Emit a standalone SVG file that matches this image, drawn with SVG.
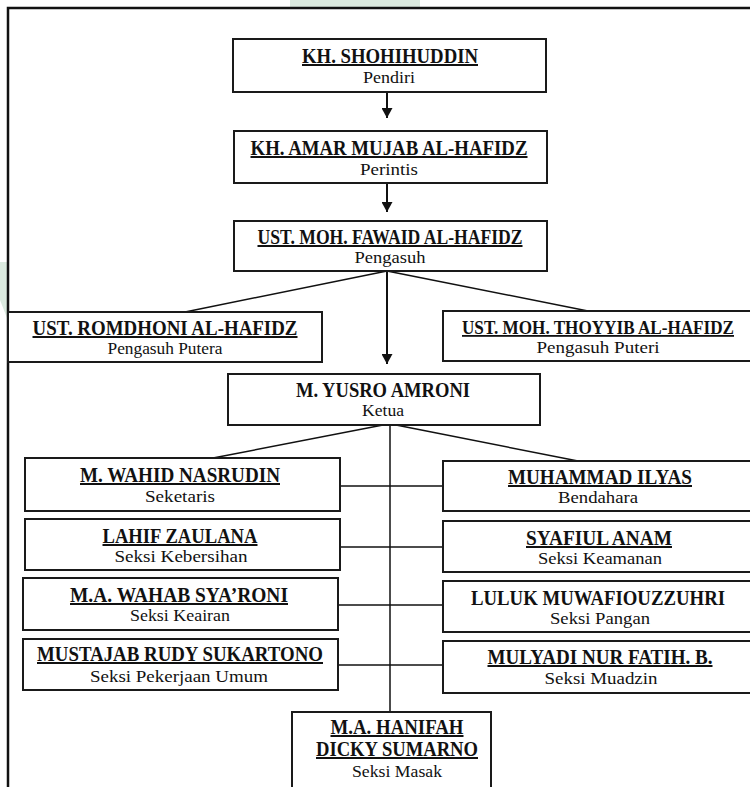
<svg xmlns="http://www.w3.org/2000/svg" width="750" height="787" viewBox="0 0 750 787">
<style>
.box{fill:#fff;stroke:#1a1a1a;stroke-width:2}
.n{font-family:"Liberation Serif","Times New Roman",serif;font-weight:bold;font-size:20px;text-anchor:middle;fill:#111}
.u{text-decoration:underline;text-decoration-thickness:2px}
.s{font-family:"Liberation Serif","Times New Roman",serif;font-size:17px;text-anchor:middle;fill:#111}
.ln{stroke:#111;stroke-width:1.5;fill:none}
.ar{stroke:#111;stroke-width:2;fill:none}
</style>
<defs>
<marker id="ah" viewBox="0 0 10 11" refX="10" refY="5.5" markerWidth="10" markerHeight="11" orient="auto" markerUnits="userSpaceOnUse">
<path d="M0,0 L10,5.5 L0,11 Z" fill="#111"/>
</marker>
</defs>
<rect width="750" height="787" fill="#fff"/>
<path d="M290,0 H420 V7 H290 Z" fill="#dbeadf"/>
<path d="M0,262 L7,262 L7,318 L0,300 Z" fill="#dbeadf"/>
<g id="frame">
<path d="M8,787 V8 H750" stroke="#111" stroke-width="2.5" fill="none"/>
</g>
<g id="connectors">
<line class="ar" x1="387" y1="92" x2="387" y2="118" marker-end="url(#ah)"/>
<line class="ar" x1="387" y1="184" x2="387" y2="212" marker-end="url(#ah)"/>
<line class="ln" x1="387" y1="271" x2="185" y2="312"/>
<line class="ln" x1="387" y1="271" x2="588" y2="311"/>
<line class="ar" x1="387" y1="271" x2="387" y2="364" stroke-width="2.5" marker-end="url(#ah)"/>
<line class="ln" x1="383" y1="425" x2="213" y2="458"/>
<line class="ln" x1="396" y1="425" x2="578" y2="461"/>
<line class="ln" x1="390" y1="425" x2="390" y2="712"/>
<line class="ln" x1="340" y1="486" x2="443" y2="486"/>
<line class="ln" x1="340" y1="547" x2="443" y2="547"/>
<line class="ln" x1="338" y1="605" x2="443" y2="605"/>
<line class="ln" x1="338" y1="665" x2="443" y2="665"/>
</g>
<g id="n1">
<rect class="box" x="233" y="39" width="313" height="53"/>
<text class="n u" x="390" y="63" textLength="176" lengthAdjust="spacingAndGlyphs">KH. SHOHIHUDDIN</text>
<text class="s" x="389" y="83" textLength="52" lengthAdjust="spacingAndGlyphs">Pendiri</text>
</g>
<g id="n2">
<rect class="box" x="234" y="131" width="313" height="52"/>
<text class="n u" x="389" y="155" textLength="277" lengthAdjust="spacingAndGlyphs">KH. AMAR MUJAB AL-HAFIDZ</text>
<text class="s" x="389" y="175" textLength="58" lengthAdjust="spacingAndGlyphs">Perintis</text>
</g>
<g id="n3">
<rect class="box" x="234" y="221" width="313" height="50"/>
<text class="n u" x="390" y="244" textLength="265" lengthAdjust="spacingAndGlyphs">UST. MOH. FAWAID AL-HAFIDZ</text>
<text class="s" x="390" y="263" textLength="71" lengthAdjust="spacingAndGlyphs">Pengasuh</text>
</g>
<g id="n4">
<rect class="box" x="8" y="312" width="314" height="50"/>
<text class="n u" x="165" y="335" textLength="265" lengthAdjust="spacingAndGlyphs">UST. ROMDHONI AL-HAFIDZ</text>
<text class="s" x="165" y="354" textLength="115" lengthAdjust="spacingAndGlyphs">Pengasuh Putera</text>
</g>
<g id="n5">
<rect class="box" x="443" y="311" width="310" height="50"/>
<text class="n u" x="598" y="334" style="font-size:18px" textLength="272" lengthAdjust="spacingAndGlyphs">UST. MOH. THOYYIB AL-HAFIDZ</text>
<text class="s" x="598" y="353" textLength="123" lengthAdjust="spacingAndGlyphs">Pengasuh Puteri</text>
</g>
<g id="n6">
<rect class="box" x="228" y="374" width="312" height="51"/>
<text class="n" x="383" y="397" textLength="174" lengthAdjust="spacingAndGlyphs">M. YUSRO AMRONI</text>
<text class="s" x="383" y="416" textLength="42" lengthAdjust="spacingAndGlyphs">Ketua</text>
</g>
<g id="n7">
<rect class="box" x="25" y="458" width="315" height="53"/>
<text class="n u" x="180" y="482" textLength="200" lengthAdjust="spacingAndGlyphs">M. WAHID NASRUDIN</text>
<text class="s" x="180" y="502" textLength="70" lengthAdjust="spacingAndGlyphs">Seketaris</text>
</g>
<g id="n8">
<rect class="box" x="443" y="461" width="310" height="50"/>
<text class="n u" x="600" y="484" textLength="184" lengthAdjust="spacingAndGlyphs">MUHAMMAD ILYAS</text>
<text class="s" x="598" y="503" textLength="80" lengthAdjust="spacingAndGlyphs">Bendahara</text>
</g>
<g id="n9">
<rect class="box" x="25" y="519" width="315" height="51"/>
<text class="n u" x="180" y="543" textLength="155" lengthAdjust="spacingAndGlyphs">LAHIF ZAULANA</text>
<text class="s" x="181" y="562" textLength="133" lengthAdjust="spacingAndGlyphs">Seksi Kebersihan</text>
</g>
<g id="n10">
<rect class="box" x="443" y="521" width="310" height="51"/>
<text class="n u" x="599" y="545" textLength="146" lengthAdjust="spacingAndGlyphs">SYAFIUL ANAM</text>
<text class="s" x="600" y="564" textLength="124" lengthAdjust="spacingAndGlyphs">Seksi Keamanan</text>
</g>
<g id="n11">
<rect class="box" x="23" y="578" width="315" height="52"/>
<text class="n u" x="179" y="602" textLength="218" lengthAdjust="spacingAndGlyphs">M.A. WAHAB SYA’RONI</text>
<text class="s" x="180" y="621" textLength="100" lengthAdjust="spacingAndGlyphs">Seksi Keairan</text>
</g>
<g id="n12">
<rect class="box" x="443" y="581" width="310" height="51"/>
<text class="n" x="598" y="605" textLength="254" lengthAdjust="spacingAndGlyphs">LULUK MUWAFIOUZZUHRI</text>
<text class="s" x="600" y="624" textLength="100" lengthAdjust="spacingAndGlyphs">Seksi Pangan</text>
</g>
<g id="n13">
<rect class="box" x="23" y="639" width="315" height="51"/>
<text class="n u" x="180" y="661" textLength="286" lengthAdjust="spacingAndGlyphs">MUSTAJAB RUDY SUKARTONO</text>
<text class="s" x="179" y="682" textLength="178" lengthAdjust="spacingAndGlyphs">Seksi Pekerjaan Umum</text>
</g>
<g id="n14">
<rect class="box" x="443" y="641" width="310" height="52"/>
<text class="n u" x="600" y="664" textLength="225" lengthAdjust="spacingAndGlyphs">MULYADI NUR FATIH. B.</text>
<text class="s" x="601" y="684" textLength="113" lengthAdjust="spacingAndGlyphs">Seksi Muadzin</text>
</g>
<g id="n15">
<rect class="box" x="292" y="712" width="199" height="80"/>
<text class="n u" x="397" y="734" textLength="133" lengthAdjust="spacingAndGlyphs">M.A. HANIFAH</text>
<text class="n u" x="397" y="756" textLength="162" lengthAdjust="spacingAndGlyphs">DICKY SUMARNO</text>
<text class="s" x="397" y="777" textLength="90" lengthAdjust="spacingAndGlyphs">Seksi Masak</text>
</g>
</svg>
